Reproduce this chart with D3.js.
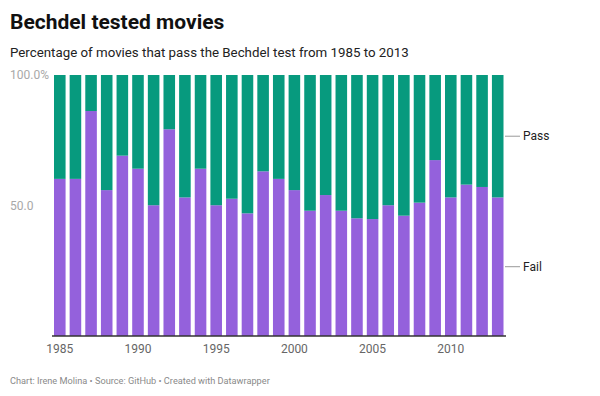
<!DOCTYPE html>
<html>
<head>
<meta charset="utf-8">
<script src="https://cdn.jsdelivr.net/npm/d3@7"></script>
<style>
  body { margin: 0; background: #fff; font-family: Roboto, "Noto Sans", sans-serif; }
  .y-label { fill: #a8a8a8; font-size: 12px; }
  .x-tick { fill: #666; font-size: 12px; }
</style>
</head>
<body>
<svg id="chart" width="600" height="396"></svg>
<script>
// years 1985..2013 and share of movies that fail / pass (percent)
const years = [1985, 1986, 1987, 1988, 1989, 1990, 1991, 1992, 1993, 1994,
               1995, 1996, 1997, 1998, 1999, 2000, 2001, 2002, 2003, 2004,
               2005, 2006, 2007, 2008, 2009, 2010, 2011, 2012, 2013]
const failPct = [60.2, 60.2, 86.2, 55.9, 69.1, 64.1, 50.1, 79.2, 53.1, 64.1,
                 50.1, 52.6, 47.0, 63.1, 60.2, 55.9, 48.0, 54.0, 48.0, 45.1,
                 44.8, 50.1, 46.1, 51.1, 67.4, 53.1, 58.0, 57.1, 53.1]
const passPct = failPct.map(v => 100 - v)
const yTicks = [50, 100]
const xTicks = [1985, 1990, 1995, 2000, 2005, 2010]
const series = ["Fail", "Pass"]
const colours = ["#9461dc", "#079a7e"]

const svg = d3.select("#chart")

svg.append("text")
   .attr("x", 10).attr("y", 29)
   .style("font-size", "21px").style("font-weight", "700")
   .attr("fill", "#111")
   .text("Bechdel tested movies")

svg.append("text")
   .attr("x", 10).attr("y", 57)
   .style("font-size", "13.3px")
   .attr("fill", "#222")
   .text("Percentage of movies that pass the Bechdel test from 1985 to 2013")

let x = d3.scaleBand()
          .domain(years)
          .range([54, 503.5])
          .paddingInner(0.26)
          .paddingOuter(0)

let y = d3.scaleLinear()
          .domain([0, 100])
          .range([336, 75])

// stack fail below pass
let rows = years.map((yr, i) => ({year: yr, Fail: failPct[i], Pass: passPct[i]}))
let stacked = d3.stack().keys(series)(rows)

svg.append("g")
   .selectAll("g")
   .data(stacked)
   .join("g")
   .attr("fill", (d, i) => colours[i])
   .selectAll("rect")
   .data(d => d)
   .join("rect")
   .attr("x", d => x(d.data.year))
   .attr("width", x.bandwidth())
   .attr("y", d => y(d[1]))
   .attr("height", d => y(d[0]) - y(d[1]))

// y labels, left aligned
svg.selectAll(".y-label")
   .data(yTicks)
   .join("text")
   .attr("class", "y-label")
   .attr("x", 10)
   .attr("y", d => y(d))
   .attr("dy", "0.35em")
   .text(d => d === 100 ? "100.0%" : d.toFixed(1))

// baseline
svg.append("line")
   .attr("x1", 52).attr("x2", 506)
   .attr("y1", y(0)).attr("y2", y(0))
   .attr("stroke", "#333").attr("stroke-width", 1.5)

svg.selectAll(".x-tick")
   .data(xTicks)
   .join("text")
   .attr("class", "x-tick")
   .attr("x", d => x(d) + x.bandwidth() / 2)
   .attr("y", 353)
   .attr("text-anchor", "middle")
   .text(d => d)

// direct labels next to the last bar
let last = stacked.map(s => s[s.length - 1])
let lab = svg.append("g")
lab.selectAll("line")
   .data(last)
   .join("line")
   .attr("x1", 505).attr("x2", 520)
   .attr("y1", d => y((d[0] + d[1]) / 2))
   .attr("y2", d => y((d[0] + d[1]) / 2))
   .attr("stroke", "#999")
lab.selectAll("text")
   .data(last)
   .join("text")
   .attr("x", 523)
   .attr("y", d => y((d[0] + d[1]) / 2))
   .attr("dy", "0.35em")
   .style("font-size", "12px")
   .attr("fill", "#222")
   .text((d, i) => series[i])

svg.append("text")
   .attr("x", 10).attr("y", 384)
   .style("font-size", "9.2px")
   .attr("fill", "#8a8a8a")
   .text("Chart: Irene Molina \u2022 Source: GitHub \u2022 Created with Datawrapper")
</script>
</body>
</html>
